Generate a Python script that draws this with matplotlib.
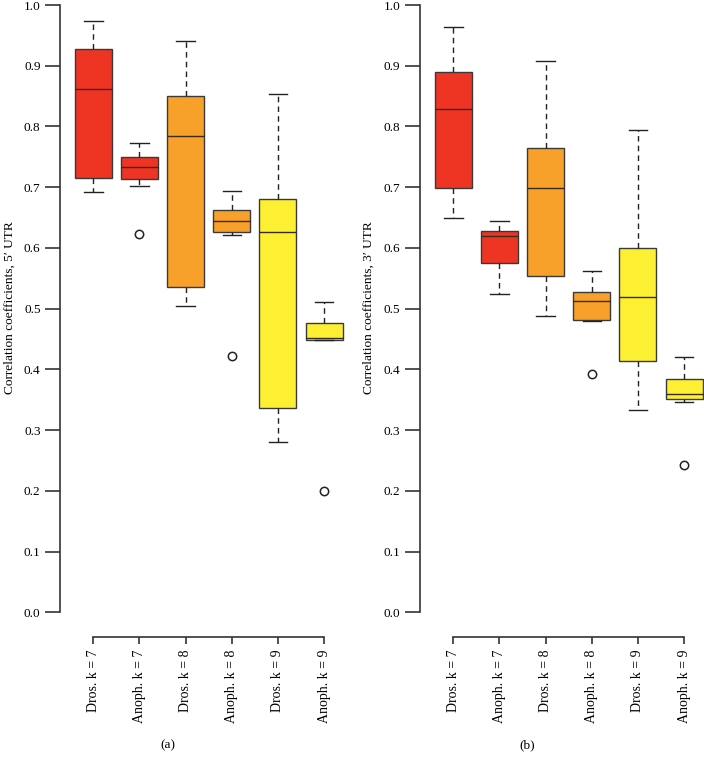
import matplotlib
matplotlib.use("Agg")
import matplotlib.pyplot as plt

plt.rcParams['font.family'] = ['Liberation Serif', 'DejaVu Serif']

groups = ['Dros. k = 7', 'Anoph. k = 7', 'Dros. k = 8',
          'Anoph. k = 8', 'Dros. k = 9', 'Anoph. k = 9']
colors = ['#ee3524', '#ee3524', '#f7a12a', '#f7a12a', '#fdef32', '#fdef32']

# five-number summaries: low whisker, Q1, median, Q3, high whisker
utr5_low = [0.692, 0.702, 0.504, 0.622, 0.280, 0.449]
utr5_q1 = [0.715, 0.713, 0.535, 0.626, 0.336, 0.449]
utr5_med = [0.862, 0.734, 0.785, 0.644, 0.626, 0.452]
utr5_q3 = [0.927, 0.750, 0.851, 0.663, 0.680, 0.476]
utr5_high = [0.974, 0.773, 0.940, 0.694, 0.853, 0.511]
utr5_out = [[], [0.623], [], [0.422], [], [0.200]]

utr3_low = [0.650, 0.524, 0.488, 0.479, 0.334, 0.347]
utr3_q1 = [0.699, 0.576, 0.554, 0.481, 0.414, 0.351]
utr3_med = [0.829, 0.620, 0.699, 0.513, 0.519, 0.360]
utr3_q3 = [0.890, 0.628, 0.764, 0.527, 0.600, 0.384]
utr3_high = [0.963, 0.644, 0.908, 0.562, 0.794, 0.421]
utr3_out = [[], [], [], [0.392], [], [0.242]]


def stats(low, q1, med, q3, high, out):
    return [dict(whislo=a, q1=b, med=c, q3=d, whishi=e, fliers=f)
            for a, b, c, d, e, f in zip(low, q1, med, q3, high, out)]


W, H = 704, 763
fig = plt.figure(figsize=(W / 100, H / 100), dpi=100)


def panel(left_px, x1_px, right_px, st, ylab, lab_x, tag, tag_x):
    step = 46.15
    xlo = 1 - (x1_px - left_px) / step
    xhi = 1 + (right_px - x1_px) / step
    y_bot = 636.7
    y_top = 5 - 0.04 * 607
    wpx = right_px - left_px
    hpx = y_bot - y_top
    ax = fig.add_axes([left_px / W, (H - y_bot) / H, wpx / W, hpx / H])
    pos = list(range(1, 7))
    b = ax.bxp(st, positions=pos, widths=0.8, patch_artist=True,
               boxprops=dict(edgecolor='#3a3a3a', linewidth=1.0),
               medianprops=dict(color='#3a2a1a', linewidth=1.0),
               whiskerprops=dict(color='#222222', linestyle=(0, (4, 3)), linewidth=1.0),
               capprops=dict(color='#222222', linewidth=1.0),
               capwidths=0.4,
               flierprops=dict(marker='o', markerfacecolor='none',
                               markeredgecolor='#222222', markersize=6,
                               markeredgewidth=1.1))
    for patch, c in zip(b['boxes'], colors):
        patch.set_facecolor(c)
    ax.set_xlim(xlo, xhi)
    ax.set_ylim(-0.04, 1.04)
    for s in ['top', 'right']:
        ax.spines[s].set_visible(False)
    ax.spines['left'].set_bounds(0, 1)
    ax.spines['bottom'].set_bounds(1, 6)
    for s in ['left', 'bottom']:
        ax.spines[s].set_color('#333333')
        ax.spines[s].set_linewidth(1.2)
    ax.set_yticks([i / 10 for i in range(11)])
    ax.set_yticklabels(['%.1f' % (i / 10) for i in range(11)])
    ax.set_xticks(pos)
    ax.set_xticklabels(groups, rotation=90, va='top')
    ax.tick_params(axis='y', length=11, width=1.2, color='#333333',
                   labelsize=9.5, pad=3)
    ax.tick_params(axis='x', length=5, width=1.2, color='#333333',
                   labelsize=10, pad=4)
    ax.set_ylabel(ylab, fontsize=9.6)
    ax.yaxis.set_label_coords(-(left_px - lab_x) / wpx, (y_bot - 307.5) / hpx)
    ax.yaxis.label.set_va('center')
    fig.text(tag_x / W, (H - 745) / H, tag, ha='center', va='center', fontsize=9.5)
    return ax


panel(60, 93.3, 352, stats(utr5_low, utr5_q1, utr5_med, utr5_q3, utr5_high, utr5_out),
      'Correlation coefficients, 5\u2032 UTR', 10, '(a)', 168)
panel(419.7, 453.3, 704, stats(utr3_low, utr3_q1, utr3_med, utr3_q3, utr3_high, utr3_out),
      'Correlation coefficients, 3\u2032 UTR', 369, '(b)', 527)

fig.savefig('out.png', dpi=100)
